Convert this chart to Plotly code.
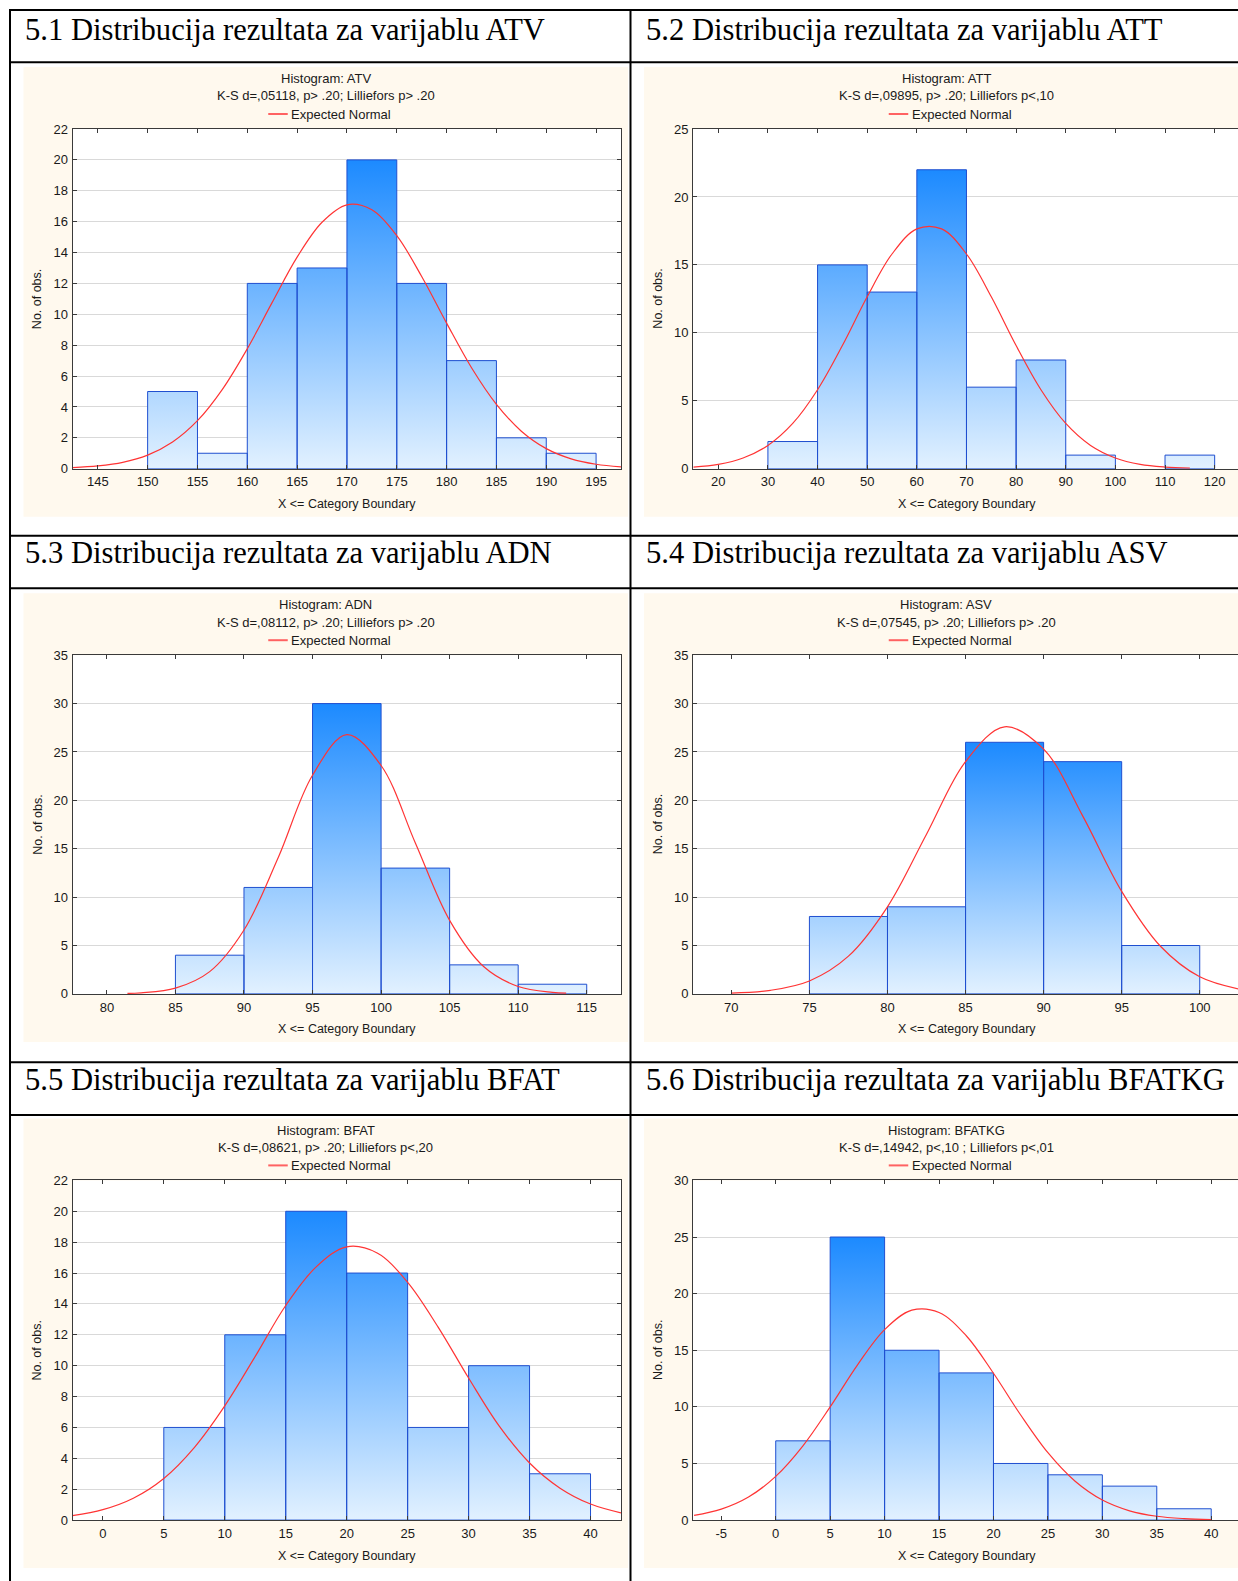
import plotly.graph_objects as go

FIG_W, FIG_H = 1238, 1581

# ---------------------------------------------------------------- text
HEADERS = [
    "5.1 Distribucija rezultata za varijablu ATV",
    "5.2 Distribucija rezultata za varijablu ATT",
    "5.3 Distribucija rezultata za varijablu ADN",
    "5.4 Distribucija rezultata za varijablu ASV",
    "5.5 Distribucija rezultata za varijablu BFAT",
    "5.6 Distribucija rezultata za varijablu BFATKG",
]
HIST_TITLES = [
    "Histogram: ATV", "Histogram: ATT", "Histogram: ADN",
    "Histogram: ASV", "Histogram: BFAT", "Histogram: BFATKG",
]
KS_LINES = [
    "K-S d=,05118, p> .20; Lilliefors p> .20",
    "K-S d=,09895, p> .20; Lilliefors p<,10",
    "K-S d=,08112, p> .20; Lilliefors p> .20",
    "K-S d=,07545, p> .20; Lilliefors p> .20",
    "K-S d=,08621, p> .20; Lilliefors p<,20",
    "K-S d=,14942, p<,10 ; Lilliefors p<,01",
]
LEGEND_LABEL = "Expected Normal"
X_TITLE = "X <= Category Boundary"
Y_TITLE = "No. of obs."

# ---------------------------------------------------------------- data
ATV_EDGES = [150, 155, 160, 165, 170, 175, 180, 185, 190, 195]
ATV_COUNTS = [5, 1, 12, 13, 20, 12, 7, 2, 1]
ATV_NORMAL_X = [142.5, 145, 147.5, 150, 152.5, 155, 157.5, 160, 162.5, 165, 167.5, 170,
                172.5, 175, 177.5, 180, 182.5, 185, 187.5, 190, 192.5, 195, 197.5]
ATV_NORMAL_Y = [0.07, 0.18, 0.41, 0.88, 1.73, 3.11, 5.14, 7.77, 10.77, 13.7, 15.96, 17.09,
                16.77, 15.09, 12.45, 9.43, 6.54, 4.17, 2.43, 1.3, 0.64, 0.29, 0.12]
ATV_XTICKS = [145, 150, 155, 160, 165, 170, 175, 180, 185, 190, 195]

ATT_EDGES = [30, 40, 50, 60, 70, 80, 90, 100, 110, 120]
ATT_COUNTS = [2, 15, 13, 22, 6, 8, 1, 0, 1]
ATT_NORMAL_X = [15, 20, 25, 30, 35, 40, 45, 50, 55, 60, 65, 70, 75, 80, 85, 90,
                95, 100, 105, 110, 115]
ATT_NORMAL_Y = [0.12, 0.32, 0.79, 1.71, 3.33, 5.81, 9.06, 12.65, 15.8, 17.65, 17.65, 15.8,
                12.65, 9.06, 5.81, 3.33, 1.71, 0.79, 0.32, 0.12, 0.04]
ATT_XTICKS = [20, 30, 40, 50, 60, 70, 80, 90, 100, 110, 120]

ADN_EDGES = [85, 90, 95, 100, 105, 110, 115]
ADN_COUNTS = [4, 11, 30, 13, 3, 1]
ADN_NORMAL_X = [81.5, 82.5, 85, 87.5, 90, 92.5, 95, 97.5, 100, 102.5, 105, 107.5,
                110, 112.5, 113.5]
ADN_NORMAL_Y = [0.05, 0.11, 0.59, 2.3, 6.6, 14.1, 22.6, 26.8, 23.6, 15.6, 7.6, 2.8,
                0.76, 0.15, 0.07]
ADN_XTICKS = [80, 85, 90, 95, 100, 105, 110, 115]

ASV_EDGES = [75, 80, 85, 90, 95, 100]
ASV_COUNTS = [8, 9, 26, 24, 5]
ASV_NORMAL_X = [70, 72.5, 75, 77.5, 80, 82.5, 85, 87.5, 90, 92.5, 95, 97.5, 100, 102.5]
ASV_NORMAL_Y = [0.08, 0.37, 1.34, 3.9, 9.0, 16.5, 24.0, 27.6, 25.3, 18.4, 10.6, 4.9,
                1.77, 0.51]
ASV_XTICKS = [70, 75, 80, 85, 90, 95, 100]

BFAT_EDGES = [5, 10, 15, 20, 25, 30, 35, 40]
BFAT_COUNTS = [6, 12, 20, 16, 6, 10, 3]
BFAT_NORMAL_X = [-2.5, 0, 2.5, 5, 7.5, 10, 12.5, 15, 17.5, 20, 22.5, 25, 27.5, 30,
                 32.5, 35, 37.5, 40, 42.5]
BFAT_NORMAL_Y = [0.29, 0.68, 1.42, 2.7, 4.7, 7.4, 10.6, 13.9, 16.4, 17.7, 17.3, 15.4,
                 12.5, 9.2, 6.1, 3.7, 2.07, 1.04, 0.47]
BFAT_XTICKS = [0, 5, 10, 15, 20, 25, 30, 35, 40]

BFATKG_EDGES = [0, 5, 10, 15, 20, 25, 30, 35, 40]
BFATKG_COUNTS = [7, 25, 15, 13, 5, 4, 3, 1]
BFATKG_NORMAL_X = [-7.5, -5, -2.5, 0, 2.5, 5, 7.5, 10, 12.5, 15, 17.5, 20, 22.5, 25,
                   27.5, 30, 32.5, 35, 37.5, 40]
BFATKG_NORMAL_Y = [0.41, 0.97, 2.04, 3.86, 6.56, 10.0, 13.69, 16.82, 18.54, 18.34, 16.28,
                   12.97, 9.28, 5.95, 3.43, 1.77, 0.82, 0.34, 0.13, 0.04]
BFATKG_XTICKS = [-5, 0, 5, 10, 15, 20, 25, 30, 35, 40]

# ---------------------------------------------------------------- styling
SERIF = "Liberation Serif, Times New Roman, serif"
SANS = "Liberation Sans, Arial, sans-serif"
CREAM = "#FFF9EE"
AXIS_COLOR = "#3A3A3A"
GRID_COLOR = "#D9D9D9"
BAR_EDGE = "#1F4FD0"
BAR_SCALE = [[0.0, "rgb(226,241,255)"], [1.0, "rgb(28,138,255)"]]
CURVE_RED = "#FF3434"
TEXT_COLOR = "#1A1A1A"

# page geometry in pixels (x from left, y from top)
COL_LEFT = [10.0, 630.5]
COL_SHIFT = 620.5
HEADER_TOP = [10.0, 535.7, 1062.3]
HEADER_BOTTOM = [62.3, 588.3, 1115.0]
HEADER_TEXT_MID = [29.7, 552.5, 1080.0]
PLOT_TOP = [129.0, 655.2, 1180.4]
PLOT_BOTTOM = [468.7, 993.9, 1520.1]
PLOT_LEFT0, PLOT_RIGHT0 = 72.6, 621.0
CREAM_LEFT0, CREAM_RIGHT0 = 23.5, 628.0

PANELS = [
    dict(edges=ATV_EDGES, counts=ATV_COUNTS, nx=ATV_NORMAL_X, ny=ATV_NORMAL_Y,
         xticks=ATV_XTICKS, xrange=[142.47, 197.5], ymax=22, ystep=2),
    dict(edges=ATT_EDGES, counts=ATT_COUNTS, nx=ATT_NORMAL_X, ny=ATT_NORMAL_Y,
         xticks=ATT_XTICKS, xrange=[14.93, 124.7], ymax=25, ystep=5),
    dict(edges=ADN_EDGES, counts=ADN_COUNTS, nx=ADN_NORMAL_X, ny=ADN_NORMAL_Y,
         xticks=ADN_XTICKS, xrange=[77.5, 117.5], ymax=35, ystep=5),
    dict(edges=ASV_EDGES, counts=ASV_COUNTS, nx=ASV_NORMAL_X, ny=ASV_NORMAL_Y,
         xticks=ASV_XTICKS, xrange=[67.55, 102.45], ymax=35, ystep=5),
    dict(edges=BFAT_EDGES, counts=BFAT_COUNTS, nx=BFAT_NORMAL_X, ny=BFAT_NORMAL_Y,
         xticks=BFAT_XTICKS, xrange=[-2.48, 42.5], ymax=22, ystep=2),
    dict(edges=BFATKG_EDGES, counts=BFATKG_COUNTS, nx=BFATKG_NORMAL_X, ny=BFATKG_NORMAL_Y,
         xticks=BFATKG_XTICKS, xrange=[-7.59, 42.46], ymax=30, ystep=5),
]


def px(x):
    return x / FIG_W


def py(y):
    return 1.0 - y / FIG_H


def bar_polygons(edges, counts):
    """Closed outline of every non-empty bin, separated by gaps."""
    xs, ys = [], []
    for left, right, n in zip(edges[:-1], edges[1:], counts):
        if n <= 0:
            continue
        xs += [left, left, right, right, left, None]
        ys += [0, n, n, 0, 0, None]
    return xs, ys


fig = go.Figure()
shapes = []
annotations = []
layout_axes = {}

# table rules
for x in COL_LEFT:
    shapes.append(dict(type="line", xref="paper", yref="paper", x0=px(x), x1=px(x),
                       y0=py(HEADER_TOP[0] - 1), y1=0, line=dict(color="black", width=2)))
for y in HEADER_TOP + HEADER_BOTTOM:
    shapes.append(dict(type="line", xref="paper", yref="paper", x0=px(COL_LEFT[0] - 1),
                       x1=1, y0=py(y), y1=py(y), line=dict(color="black", width=2)))

for i, p in enumerate(PANELS):
    row, col = divmod(i, 2)
    n = i + 1
    shift = col * COL_SHIFT
    left = PLOT_LEFT0 + shift
    right = min(PLOT_RIGHT0 + shift, FIG_W)
    top, bottom = PLOT_TOP[row], PLOT_BOTTOM[row]
    cream_l = CREAM_LEFT0 + shift
    cream_r = min(CREAM_RIGHT0 + shift, FIG_W)
    cream_cx = (CREAM_LEFT0 + CREAM_RIGHT0) / 2 + shift
    plot_cx = (PLOT_LEFT0 + PLOT_RIGHT0) / 2 + shift

    # chart background and plot area
    shapes.append(dict(type="rect", xref="paper", yref="paper", layer="below",
                       x0=px(cream_l), x1=px(cream_r), y0=py(bottom + 48), y1=py(top - 62),
                       fillcolor=CREAM, line=dict(width=0)))
    shapes.append(dict(type="rect", xref="paper", yref="paper", layer="below",
                       x0=px(left), x1=px(right), y0=py(bottom), y1=py(top),
                       fillcolor="white", line=dict(width=0)))

    # histogram bars with vertical gradient
    bx, by = bar_polygons(p["edges"], p["counts"])
    fig.add_trace(go.Scatter(
        x=bx, y=by, mode="lines", fill="toself",
        fillgradient=dict(type="vertical", colorscale=BAR_SCALE),
        line=dict(color=BAR_EDGE, width=1), xaxis=f"x{n}", yaxis=f"y{n}",
        hoverinfo="skip", showlegend=False))

    # expected normal curve
    fig.add_trace(go.Scatter(
        x=p["nx"], y=p["ny"], mode="lines",
        line=dict(color=CURVE_RED, width=1.2, shape="spline", smoothing=1.0),
        xaxis=f"x{n}", yaxis=f"y{n}", hoverinfo="skip", showlegend=False))

    yticks = list(range(0, p["ymax"] + 1, p["ystep"]))
    layout_axes[f"xaxis{n}"] = dict(
        domain=[px(left), px(right)], range=p["xrange"], anchor=f"y{n}",
        showgrid=False, zeroline=False, showline=True, linecolor=AXIS_COLOR, linewidth=1,
        mirror="ticks", ticks="inside", ticklen=4, tickcolor=AXIS_COLOR,
        tickvals=p["xticks"], ticktext=[str(v) for v in p["xticks"]],
        tickfont=dict(family=SANS, size=13, color=TEXT_COLOR), automargin=False,
        ticklabelstandoff=1, fixedrange=True)
    layout_axes[f"yaxis{n}"] = dict(
        domain=[py(bottom), py(top)], range=[0, p["ymax"]], anchor=f"x{n}",
        showgrid=True, gridcolor=GRID_COLOR, gridwidth=1, zeroline=False,
        showline=True, linecolor=AXIS_COLOR, linewidth=1,
        mirror="ticks" if col == 0 else False, ticks="inside", ticklen=4,
        tickcolor=AXIS_COLOR, tickvals=yticks, ticktext=[str(v) for v in yticks],
        tickfont=dict(family=SANS, size=13, color=TEXT_COLOR), automargin=False,
        ticklabelstandoff=1, fixedrange=True)

    # header cell text
    annotations.append(dict(
        text=HEADERS[i], xref="paper", yref="paper", x=px(25.3 + shift), y=py(HEADER_TEXT_MID[row]),
        xanchor="left", yanchor="middle", showarrow=False, borderpad=0, borderwidth=0,
        font=dict(family=SERIF, size=30.6, color="black")))

    # chart captions
    for txt, dy in ((HIST_TITLES[i], 50.4), (KS_LINES[i], 33.2)):
        annotations.append(dict(
            text=txt, xref="paper", yref="paper", x=px(cream_cx), y=py(top - dy),
            xanchor="center", yanchor="middle", showarrow=False, borderpad=0, borderwidth=0,
            font=dict(family=SANS, size=13, color=TEXT_COLOR)))

    # legend entry
    ly = top - 15
    shapes.append(dict(type="line", xref="paper", yref="paper",
                       x0=px(cream_cx - 57.5), x1=px(cream_cx - 38), y0=py(ly), y1=py(ly),
                       line=dict(color="#FF6262", width=2)))
    annotations.append(dict(
        text=LEGEND_LABEL, xref="paper", yref="paper", x=px(cream_cx - 34.5), y=py(ly),
        xanchor="left", yanchor="middle", showarrow=False, borderpad=0, borderwidth=0,
        font=dict(family=SANS, size=13, color=TEXT_COLOR)))

    # axis titles
    annotations.append(dict(
        text=X_TITLE, xref="paper", yref="paper", x=px(plot_cx), y=py(bottom + 35.5),
        xanchor="center", yanchor="middle", showarrow=False, borderpad=0, borderwidth=0,
        font=dict(family=SANS, size=12.5, color=TEXT_COLOR)))
    annotations.append(dict(
        text=Y_TITLE, xref="paper", yref="paper", x=px(left - 35.3), y=py((top + bottom) / 2),
        xanchor="center", yanchor="middle", textangle=-90, showarrow=False,
        borderpad=0, borderwidth=0, font=dict(family=SANS, size=12.5, color=TEXT_COLOR)))

fig.update_layout(
    template="none",
    width=FIG_W, height=FIG_H,
    margin=dict(l=0, r=0, t=0, b=0, pad=0),
    paper_bgcolor="white", plot_bgcolor="white",
    font=dict(family=SANS, size=13, color=TEXT_COLOR),
    showlegend=False,
    shapes=shapes, annotations=annotations,
    **layout_axes,
)

fig.write_html("out.html", config={"displayModeBar": False})
